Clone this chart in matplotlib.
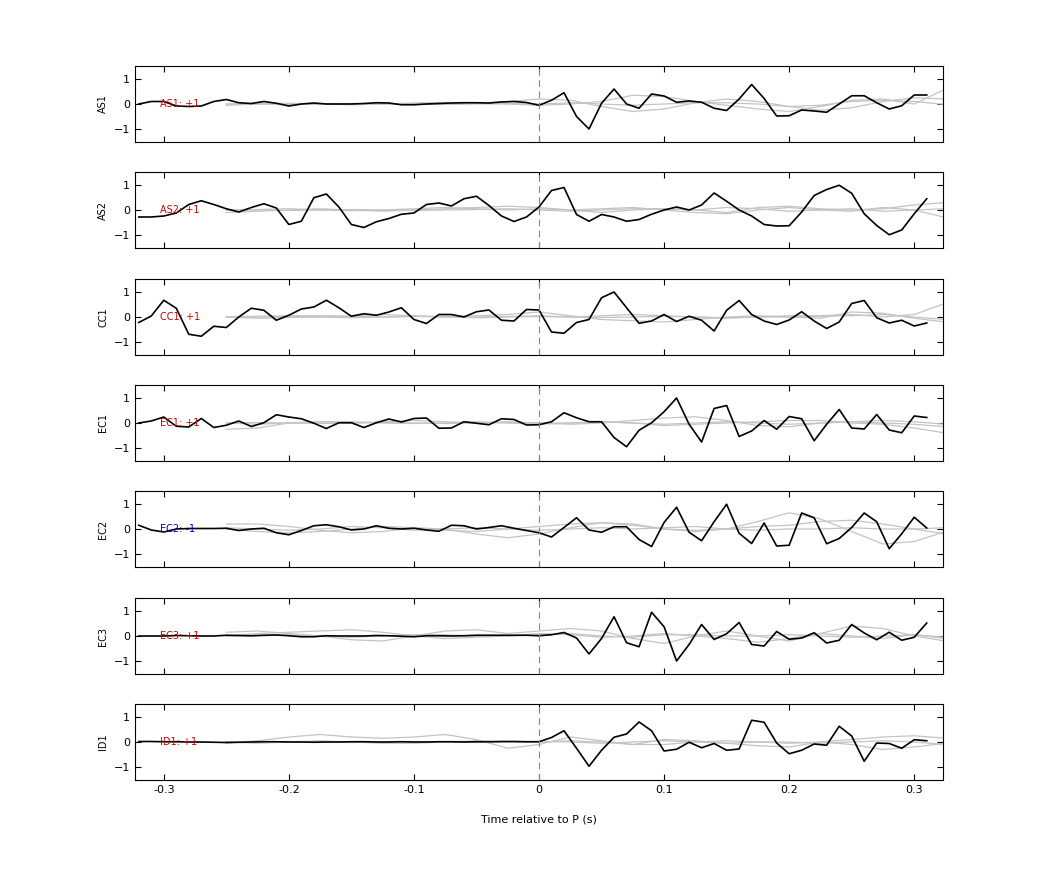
import numpy as np
import matplotlib
matplotlib.use("Agg")
import matplotlib.pyplot as plt

# station names, polarity labels
stations = ["AS1", "AS2", "CC1", "EC1", "EC2", "EC3", "ID1"]
labels = ["AS1: +1", "AS2: +1", "CC1: +1", "EC1: +1", "EC2: -1", "EC3: +1", "ID1: +1"]
label_colors = ["#d00000", "#d00000", "#d00000", "#d00000", "#0000c8", "#d00000", "#d00000"]

# time axis of the stacked trace (s)
t = np.round(np.arange(-0.32, 0.315, 0.01), 2)

# main traces (black)
as1 = [0, 0.1, 0.1, -0.08, -0.1, -0.08, 0.1, 0.18, 0.05, 0.02, 0.1, 0.03, -0.08, 0, 0.04, 0.0,
       0.0, 0.0, 0.02, 0.05, 0.04, -0.03, -0.03, 0.0, 0.02, 0.04, 0.05, 0.05, 0.04, 0.08, 0.1, 0.06,
       -0.05, 0.15, 0.45, -0.5, -1.0, 0.03, 0.6, 0, -0.17, 0.4, 0.32, 0.07, 0.12, 0.07, -0.17, -0.26,
       0.2, 0.78, 0.22, -0.48, -0.47, -0.24, -0.28, -0.33, 0, 0.33, 0.33, 0.05, -0.2, -0.07, 0.36, 0.36]
as2 = [-0.28, -0.28, -0.24, -0.12, 0.22, 0.37, 0.22, 0.05, -0.08, 0.1, 0.25, 0.08, -0.58, -0.45, 0.49, 0.64,
       0.12, -0.58, -0.7, -0.47, -0.34, -0.17, -0.12, 0.22, 0.28, 0.16, 0.45, 0.55, 0.18, -0.24, -0.46, -0.28,
       0.12, 0.78, 0.9, -0.18, -0.45, -0.18, -0.28, -0.45, -0.38, -0.17, 0, 0.12, 0, 0.2, 0.68, 0.35,
       0.0, -0.24, -0.58, -0.64, -0.63, -0.08, 0.58, 0.82, 0.99, 0.67, -0.15, -0.62, -0.99, -0.8, -0.15, 0.45]
cc1 = [-0.22, 0.04, 0.67, 0.35, -0.69, -0.77, -0.37, -0.42, 0, 0.35, 0.27, -0.13, 0.07, 0.32, 0.4, 0.67,
       0.37, 0.03, 0.13, 0.07, 0.2, 0.37, -0.1, -0.26, 0.1, 0.1, 0, 0.21, 0.28, -0.13, -0.16, 0.3,
       0.28, -0.6, -0.65, -0.22, -0.1, 0.77, 1.0, 0.37, -0.25, -0.16, 0.1, -0.18, 0.03, -0.13, -0.56, 0.27,
       0.66, 0.1, -0.16, -0.3, -0.12, 0.21, -0.16, -0.46, -0.2, 0.54, 0.66, -0.03, -0.24, -0.13, -0.36, -0.24]
ec1 = [0, 0.08, 0.24, -0.13, -0.16, 0.18, -0.18, -0.09, 0.08, -0.14, 0.01, 0.33, 0.24, 0.17, -0.01, -0.22,
       0.01, 0.01, -0.18, 0.01, 0.16, 0.04, 0.18, 0.2, -0.21, -0.2, 0.05, -0.01, -0.07, 0.17, 0.14, -0.08,
       -0.07, 0.05, 0.41, 0.21, 0.05, 0.05, -0.58, -0.95, -0.29, 0.01, 0.45, 1.0, -0.05, -0.76, 0.58, 0.7,
       -0.54, -0.32, 0.1, -0.25, 0.26, 0.17, -0.71, -0.05, 0.54, -0.2, -0.24, 0.34, -0.28, -0.39, 0.28, 0.22]
ec2 = [0.15, -0.04, -0.12, 0, 0.02, 0.02, 0.02, 0.03, -0.06, 0, 0.03, -0.15, -0.23, -0.06, 0.13, 0.17,
       0.09, -0.04, 0, 0.13, 0.03, 0, 0.03, -0.04, -0.09, 0.15, 0.13, 0, 0.06, 0.13, 0.03, -0.06,
       -0.15, -0.32, 0.06, 0.45, -0.04, -0.13, 0.09, 0.09, -0.42, -0.7, 0.26, 0.87, -0.13, -0.47, 0.29, 0.99,
       -0.17, -0.58, 0.24, -0.68, -0.65, 0.64, 0.45, -0.59, -0.38, 0.06, 0.64, 0.29, -0.79, -0.19, 0.47, 0.04]
ec3 = [0, 0, 0, 0.02, 0.01, 0, 0, 0.03, 0.02, 0.01, 0.03, 0.04, 0.01, -0.03, -0.03, 0.01,
       0.0, 0.0, 0.0, 0.02, 0.01, -0.01, -0.03, 0.01, 0.01, 0.0, 0.01, 0.03, 0.03, 0.03, 0.03, 0.03,
       0.01, 0.05, 0.14, -0.08, -0.72, -0.1, 0.77, -0.27, -0.43, 0.95, 0.37, -1.0, -0.34, 0.46, -0.14, 0.09,
       0.54, -0.34, -0.4, 0.18, -0.13, -0.08, 0.13, -0.28, -0.17, 0.46, 0.12, -0.15, 0.15, -0.17, -0.05, 0.52]
id1 = [0.02, 0.02, 0.01, 0.01, 0.0, 0.0, -0.01, -0.02, -0.01, 0.0, 0.01, 0.01, 0.0, 0.0, -0.01, 0.0,
       0.0, 0.01, 0.01, 0.0, 0.0, 0.01, 0.0, 0.0, 0.01, 0.01, 0.0, 0.01, 0.01, 0.02, 0.02, 0.01,
       0.01, 0.18, 0.45, -0.25, -0.97, -0.33, 0.19, 0.32, 0.8, 0.45, -0.36, -0.29, -0.01, -0.23, -0.06, -0.33,
       -0.28, 0.87, 0.79, -0.04, -0.47, -0.33, -0.08, -0.13, 0.63, 0.24, -0.77, -0.04, -0.06, -0.25, 0.09, 0.05]
traces = [as1, as2, cc1, ec1, ec2, ec3, id1]

# time axis of the gray template traces (s)
tg = np.round(np.arange(-0.25, 0.326, 0.025), 3)

# gray template traces, three per station
gray = [
    [[0.0, 0.0, -0.02, 0.0, 0.02, 0.0, -0.02, 0.0, 0.03, 0.1, 0.2, 0.15, -0.1, -0.3, -0.2, 0.05, 0.2, 0.1, -0.1, -0.25, -0.15, 0.1, 0.25, 0.2],
     [-0.05, 0.0, 0.03, 0.0, -0.03, 0.0, 0.04, 0.06, 0.02, 0.0, -0.05, 0.0, 0.1, 0.35, 0.3, 0.1, -0.05, -0.2, -0.3, -0.1, 0.15, 0.2, 0.0, 0.6],
     [0.0, 0.02, 0.0, -0.02, 0.0, 0.02, 0.0, -0.02, 0.0, 0.02, 0.0, 0.05, 0.0, -0.05, 0.0, 0.05, 0.05, 0.0, -0.1, -0.05, 0.1, 0.15, 0.1, -0.02]],
    [[-0.1, -0.05, 0.0, 0.05, 0.0, -0.05, 0.0, 0.05, 0.1, 0.15, 0.1, 0.0, -0.1, 0.0, 0.05, 0.0, -0.1, 0.1, 0.15, 0.05, 0.0, 0.05, 0.2, 0.3],
     [0.0, 0.02, 0.05, 0.0, -0.03, 0.0, 0.05, 0.1, 0.05, 0.0, 0.05, 0.0, 0.05, 0.1, 0.0, -0.1, -0.15, 0.0, 0.1, 0.0, -0.05, 0.1, 0.0, -0.3],
     [0.0, 0.0, -0.02, 0.0, 0.02, 0.0, -0.02, 0.0, 0.02, 0.05, 0.0, -0.05, 0.0, 0.05, 0.05, 0.0, 0.1, 0.05, -0.05, 0.0, 0.05, -0.05, 0.0, 0.05]],
    [[0.0, 0.03, 0.05, 0.05, 0.03, 0.0, 0.02, 0.03, 0.05, 0.1, 0.2, 0.05, -0.1, -0.15, -0.2, -0.1, 0.0, 0.05, 0.0, -0.05, 0.2, 0.15, -0.05, -0.2],
     [0.0, -0.05, -0.02, 0.0, 0.05, 0.1, 0.05, 0.0, -0.03, 0.0, 0.02, 0.0, 0.05, 0.1, 0.05, 0.0, -0.05, 0.0, 0.05, 0.05, 0.1, 0.0, 0.1, 0.55],
     [0.0, 0.0, 0.03, 0.0, -0.03, 0.0, 0.03, 0.0, 0.0, 0.02, 0.05, 0.0, -0.02, 0.0, 0.03, 0.0, -0.03, 0.0, 0.0, 0.03, 0.05, 0.1, 0.0, -0.1]],
    [[-0.25, -0.2, 0.0, 0.05, 0.0, 0.05, 0.1, 0.05, 0.0, 0.05, 0.0, -0.05, 0.0, 0.1, 0.2, 0.25, 0.1, -0.1, -0.15, 0.0, 0.05, 0.1, 0.05, -0.05],
     [0.0, -0.05, 0.0, 0.05, 0.05, 0.0, -0.02, 0.0, 0.05, 0.0, -0.05, 0.0, 0.05, 0.0, -0.1, -0.05, 0.0, 0.05, 0.1, 0.1, 0.0, -0.05, -0.2, -0.4],
     [0.0, 0.02, 0.0, -0.02, 0.0, 0.02, 0.0, -0.02, 0.0, 0.02, 0.0, 0.0, 0.05, 0.0, -0.05, 0.0, 0.05, 0.0, -0.05, 0.0, 0.05, 0.0, -0.05, -0.15]],
    [[0.2, 0.2, 0.1, -0.05, -0.15, -0.1, 0.05, 0.0, -0.2, -0.35, -0.2, 0.05, 0.25, 0.2, 0.0, -0.1, 0.0, 0.3, 0.65, 0.4, -0.1, -0.6, -0.5, -0.1],
     [0.0, -0.1, -0.15, -0.1, 0.0, 0.1, 0.05, -0.05, -0.1, 0.0, 0.1, 0.2, 0.25, 0.15, 0.0, -0.05, 0.0, 0.1, 0.15, 0.3, 0.35, 0.2, 0.0, -0.2],
     [0.05, 0.0, -0.05, 0.0, 0.1, 0.05, -0.05, 0.0, 0.05, 0.0, -0.05, 0.0, 0.05, 0.0, 0.05, 0.1, 0.0, -0.05, 0.0, 0.0, 0.05, 0.0, 0.0, 0.05]],
    [[0.15, 0.2, 0.1, 0.0, -0.15, -0.2, 0.0, 0.2, 0.25, 0.1, 0.2, 0.3, 0.2, -0.1, -0.3, 0.0, 0.2, 0.0, -0.2, 0.1, 0.4, 0.3, 0.0, -0.2],
     [0.0, 0.1, 0.15, 0.2, 0.25, 0.15, 0.0, -0.1, -0.05, 0.0, 0.1, 0.05, -0.05, 0.0, 0.1, 0.0, -0.1, -0.25, -0.1, 0.1, 0.0, -0.1, 0.05, -0.05],
     [0.0, 0.0, 0.05, 0.0, -0.05, 0.0, 0.05, 0.05, 0.0, 0.0, 0.05, 0.1, 0.0, -0.05, 0.05, 0.05, 0.0, 0.0, 0.05, 0.0, -0.05, 0.0, 0.05, -0.1]],
    [[-0.05, 0.05, 0.2, 0.3, 0.2, 0.15, 0.2, 0.3, 0.1, -0.25, -0.1, 0.2, 0.05, -0.1, 0.1, 0.05, -0.05, -0.15, -0.2, 0.0, -0.1, -0.3, -0.2, -0.05],
     [0.0, -0.05, 0.0, 0.05, 0.0, -0.05, -0.05, 0.0, 0.05, 0.0, 0.0, 0.05, 0.0, -0.1, -0.1, 0.0, 0.05, 0.0, -0.05, 0.0, 0.1, 0.2, 0.25, 0.15],
     [0.0, 0.0, 0.02, 0.0, -0.02, 0.0, 0.02, 0.0, -0.02, 0.0, 0.02, 0.0, -0.05, 0.0, 0.05, 0.0, -0.05, 0.0, 0.0, -0.05, 0.0, 0.05, 0.0, -0.1]],
]

fig = plt.figure(figsize=(10.42, 8.75), dpi=100)
tops = [66, 172, 279, 385, 491, 598, 704]
for i, name in enumerate(stations):
    ax = fig.add_axes([135 / 1042, 1 - (tops[i] + 76) / 875, 808 / 1042, 76 / 875])
    for g in gray[i]:
        ax.plot(tg, g, color="#c4c4c4", lw=0.9)
    ax.plot(t, traces[i], color="black", lw=1.2)
    ax.axvline(0, color="#e06060", lw=0.8, ls=(0, (6, 4)))
    ax.text(-0.303, 0, labels[i], color=label_colors[i], fontsize=7, va="center")
    ax.set_xlim(-0.323, 0.323)
    ax.set_ylim(-1.52, 1.52)
    ax.set_yticks([-1, 0, 1])
    ax.set_xticks([-0.3, -0.2, -0.1, 0, 0.1, 0.2, 0.3])
    ax.tick_params(direction="in", top=True, right=True, labelsize=8, length=4)
    ax.set_ylabel(name, fontsize=7)
    if i < len(stations) - 1:
        ax.set_xticklabels([])
    else:
        ax.set_xticklabels(["-0.3", "-0.2", "-0.1", "0", "0.1", "0.2", "0.3"])
        ax.set_xlabel("Time relative to P (s)", fontsize=8, labelpad=14)

fig.savefig("out.png", dpi=100)
